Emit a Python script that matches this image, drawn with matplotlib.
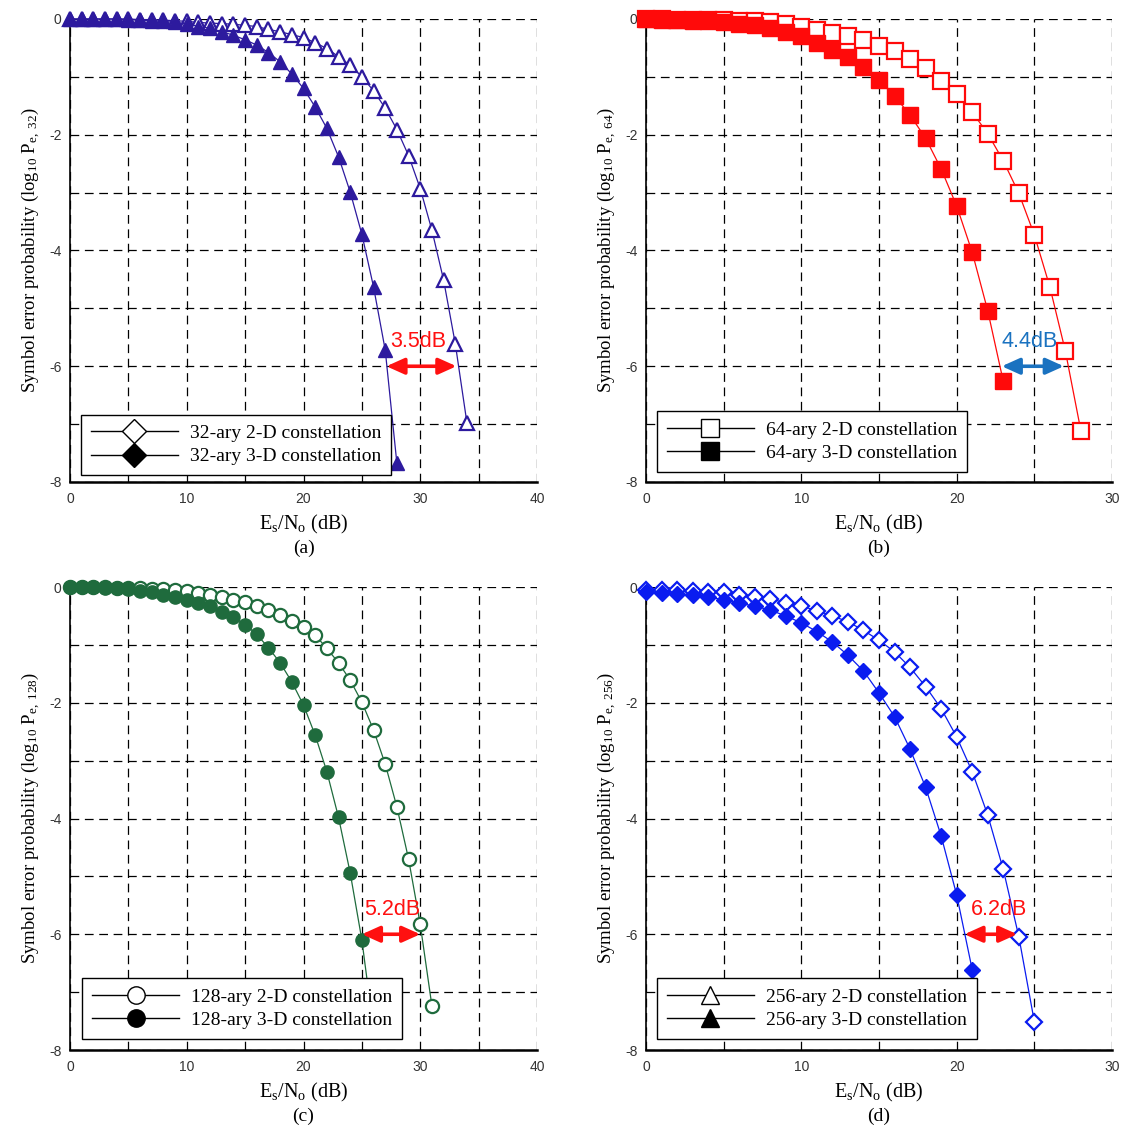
import matplotlib
matplotlib.use("Agg")
import matplotlib.pyplot as plt
from matplotlib.lines import Line2D
import numpy as np

plt.rcParams['mathtext.fontset'] = 'custom'
plt.rcParams['mathtext.rm'] = 'Liberation Serif'
plt.rcParams['mathtext.it'] = 'Liberation Serif:italic'

# ---------------- data ----------------
a_x2 = list(range(0, 35))
a_y2 = [0, 0, 0, 0, 0, 0, -0.01, -0.01, -0.02, -0.03, -0.04, -0.06, -0.07, -0.08, -0.09,
        -0.11, -0.13, -0.18, -0.22, -0.27, -0.32, -0.41, -0.51, -0.65, -0.80, -1.00,
        -1.24, -1.54, -1.91, -2.36, -2.93, -3.65, -4.51, -5.61, -6.98]
a_x3 = list(range(0, 29))
a_y3 = [0, 0, 0, 0, 0, -0.01, -0.02, -0.03, -0.04, -0.06, -0.08, -0.13, -0.16, -0.22,
        -0.28, -0.36, -0.45, -0.58, -0.74, -0.95, -1.20, -1.52, -1.89, -2.38, -2.99,
        -3.72, -4.63, -5.72, -7.68]

b_x2 = list(range(0, 29))
b_y2 = [0, 0, -0.01, -0.01, -0.02, -0.02, -0.03, -0.04, -0.06, -0.09, -0.13, -0.19,
        -0.25, -0.30, -0.37, -0.46, -0.56, -0.69, -0.85, -1.07, -1.30, -1.61, -1.98,
        -2.45, -3.01, -3.73, -4.63, -5.74, -7.12]
b_x3 = list(range(0, 24))
b_y3 = [0, -0.01, -0.02, -0.03, -0.04, -0.06, -0.08, -0.11, -0.15, -0.22, -0.30, -0.42,
        -0.53, -0.66, -0.83, -1.05, -1.33, -1.66, -2.06, -2.59, -3.23, -4.03, -5.04, -6.26]

c_x2 = list(range(0, 32))
c_y2 = [0, 0, 0, 0, -0.01, -0.01, -0.02, -0.03, -0.04, -0.05, -0.07, -0.10, -0.14,
        -0.17, -0.22, -0.26, -0.32, -0.39, -0.48, -0.58, -0.69, -0.83, -1.06, -1.31,
        -1.61, -1.99, -2.47, -3.06, -3.80, -4.70, -5.83, -7.24]
c_x3 = list(range(0, 27))
c_y3 = [0, 0, 0, -0.02, -0.02, -0.04, -0.07, -0.09, -0.13, -0.17, -0.22, -0.27, -0.33,
        -0.43, -0.52, -0.65, -0.82, -1.05, -1.31, -1.64, -2.04, -2.56, -3.19, -3.98,
        -4.94, -6.10, -7.65]

d_x2 = list(range(0, 26))
d_y2 = [-0.05, -0.05, -0.06, -0.07, -0.08, -0.09, -0.13, -0.17, -0.21, -0.27, -0.33,
        -0.41, -0.50, -0.60, -0.75, -0.92, -1.12, -1.39, -1.72, -2.10, -2.59, -3.19,
        -3.94, -4.88, -6.04, -7.51]
d_x3 = list(range(0, 22))
d_y3 = [-0.09, -0.10, -0.12, -0.14, -0.17, -0.22, -0.28, -0.33, -0.40, -0.50, -0.62,
        -0.77, -0.95, -1.18, -1.45, -1.83, -2.24, -2.80, -3.46, -4.30, -5.32, -6.61]

orders = ['32', '64', '128', '256']
captions = ['(a)', '(b)', '(c)', '(d)']
gains = ['3.5dB', '4.4dB', '5.2dB', '6.2dB']
gain_from = [27.1, 22.9, 25.0, 20.5]
gain_to = [33.1, 26.9, 30.0, 23.9]
gain_text_x = [29.8, 24.7, 27.6, 22.7]
xmax = [40, 30, 40, 30]

# ---------------- style ----------------
colors = ['#2d1a9e', '#ff0a0a', '#1f6b3d', '#0a1cf0']
arrow_colors = ['#ff1010', '#1a72c0', '#ff1010', '#ff1010']
plot_markers = ['^', 's', 'o', 'D']
plot_ms = [9.5, 11.5, 9.5, 8.5]
legend_markers = ['D', 's', 'o', '^']
legend_ms = [12, 12.5, 12.5, 13]

W, H = 1127, 1136
fig = plt.figure(figsize=(W / 100, H / 100), dpi=100)

boxes = [(70, 19, 537, 482), (646, 19, 1112, 482), (70, 587, 537, 1050), (646, 587, 1112, 1050)]
leg_pos = [(0.0236, 0.015), (0.0236, 0.0216), (0.026, 0.024), (0.0236, 0.024)]

data = [(a_x2, a_y2, a_x3, a_y3), (b_x2, b_y2, b_x3, b_y3),
        (c_x2, c_y2, c_x3, c_y3), (d_x2, d_y2, d_x3, d_y3)]

for i in range(4):
    l, t, r, b = boxes[i]
    ax = fig.add_axes([l / W, 1 - b / H, (r - l) / W, (b - t) / H])
    x2, y2, x3, y3 = data[i]
    c = colors[i]
    ax.plot(x2, y2, color=c, lw=0.9, marker=plot_markers[i], ms=plot_ms[i],
            mfc='white', mec=c, mew=1.6, clip_on=False, zorder=3)
    ax.plot(x3, y3, color=c, lw=0.9, marker=plot_markers[i], ms=plot_ms[i],
            mfc=c, mec=c, mew=1.0, clip_on=False, zorder=4)

    ax.set_xlim(0, xmax[i])
    ax.set_ylim(-8, 0)
    xt = np.arange(0, xmax[i] + 1, 5)
    ax.set_xticks(xt)
    ax.set_xticklabels([str(v) if v % 10 == 0 else '' for v in xt])
    yt = np.arange(-8, 1, 1)
    ax.set_yticks(yt)
    ax.set_yticklabels([str(v) if v % 2 == 0 else '' for v in yt])
    ax.tick_params(length=0, labelsize=10, colors='#333333')
    ax.tick_params(axis='x', pad=7)
    ax.tick_params(axis='y', pad=6)
    for lab in ax.get_xticklabels() + ax.get_yticklabels():
        lab.set_family('Liberation Sans')
    ax.grid(True, color='black', lw=0.9, linestyle=(0, (7, 4.5)))
    ax.set_axisbelow(True)
    ax.spines['top'].set_visible(False)
    ax.spines['right'].set_visible(False)
    ax.spines['left'].set_linewidth(1.2)
    ax.spines['bottom'].set_linewidth(1.8)

    ax.set_ylabel(r'Symbol error probability (log$\mathregular{_{10}}$ P$\mathregular{_{e,\ ' + orders[i] + '}}$)',
                  family='Liberation Serif', fontsize=13.5, labelpad=5)
    ax.set_xlabel(r'E$\mathregular{_s}$/N$\mathregular{_o}$ (dB)', family='Liberation Serif',
                  fontsize=14.5, labelpad=5)

    # gain arrow
    ax.annotate('', xy=(gain_to[i], -6), xytext=(gain_from[i], -6),
                arrowprops=dict(arrowstyle='<|-|>,head_length=0.6,head_width=0.27',
                                color=arrow_colors[i], lw=2.6, mutation_scale=18,
                                shrinkA=0, shrinkB=0), zorder=6)
    ax.text(gain_text_x[i], -5.57, gains[i], color=arrow_colors[i], fontsize=15.5,
            family='Liberation Sans', ha='center', va='center', zorder=6)

    handles = [Line2D([], [], color='black', lw=1, marker=legend_markers[i], ms=legend_ms[i],
                      mfc='white', mec='black', mew=1),
               Line2D([], [], color='black', lw=1, marker=legend_markers[i], ms=legend_ms[i],
                      mfc='black', mec='black', mew=1)]
    labels = [orders[i] + '-ary 2-D constellation', orders[i] + '-ary 3-D constellation']
    leg = ax.legend(handles, labels, loc='lower left', bbox_to_anchor=leg_pos[i],
                    borderaxespad=0, prop={'family': 'Liberation Serif', 'size': 14},
                    handlelength=4.5, handletextpad=0.6, labelspacing=0.3,
                    borderpad=0.5, fancybox=False, framealpha=1, edgecolor='black')
    leg.get_frame().set_linewidth(1.0)
    leg.set_zorder(10)

    fig.text((l + r) / 2 / W, 1 - (b + 66) / H, captions[i], family='Liberation Serif',
             fontsize=14, ha='center', va='center')

fig.savefig('out.png', dpi=100)
